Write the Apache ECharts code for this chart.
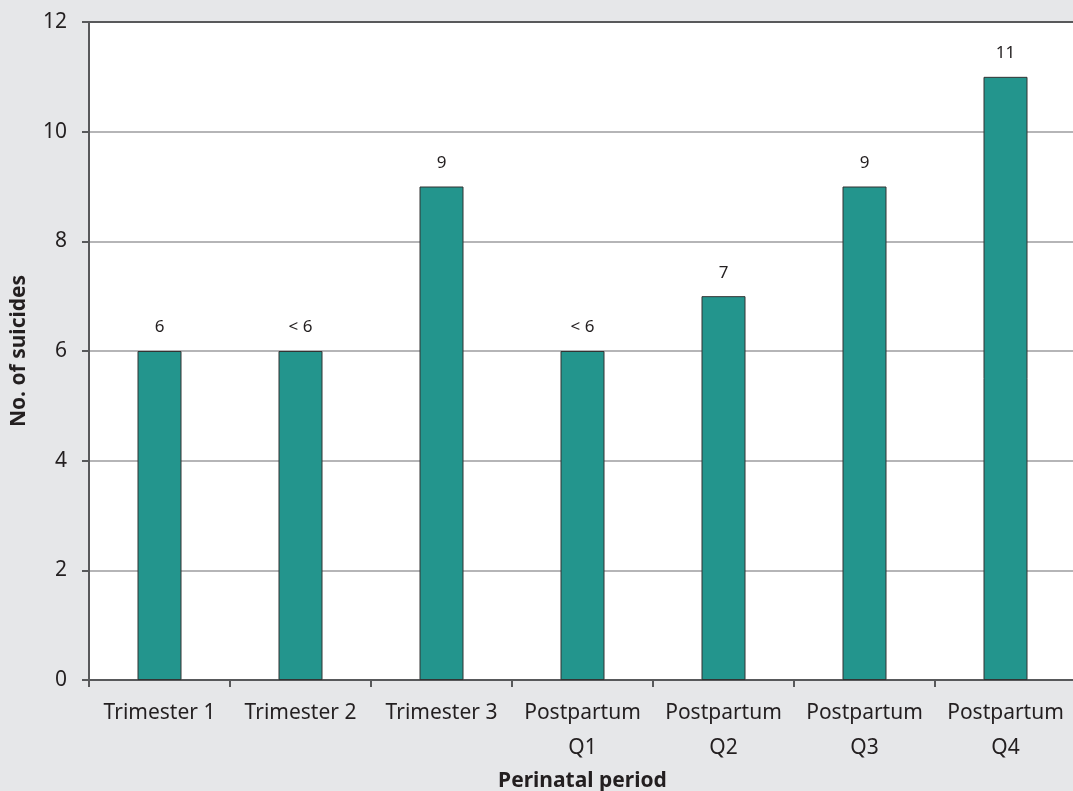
<!DOCTYPE html>
<html><head><meta charset="utf-8">
<script src="https://cdn.jsdelivr.net/npm/echarts@6/dist/echarts.min.js"></script>
<style>html,body{margin:0;padding:0;background:#e6e7e9;}#c{width:1073px;height:791px;}</style>
</head><body><div id="c"></div>
<script>
var categories = ['Trimester 1','Trimester 2','Trimester 3','Postpartum\nQ1','Postpartum\nQ2','Postpartum\nQ3','Postpartum\nQ4'];
var values = [6, 6, 9, 6, 7, 9, 11];
var labels = ['6', '< 6', '9', '< 6', '7', '9', '11'];
var yTicks = [0, 2, 4, 6, 8, 10, 12];
var chart = echarts.init(document.getElementById('c'));
var font = 'Noto Sans';
chart.setOption({
  backgroundColor: '#e6e7e9',
  animation: false,
  grid: {left: 89, right: -3, top: 22, bottom: 111, show: true, backgroundColor: '#fff', borderWidth: 0,
    containLabel: false, outerBoundsMode: 'none'},
  xAxis: {
    type: 'category', data: categories,
    name: 'Perinatal period', nameLocation: 'middle', nameGap: 87,
    nameTextStyle: {fontFamily: font, fontWeight: 'bold', fontSize: 21, color: '#231f20'},
    axisLine: {lineStyle: {color: '#58595b', width: 2}},
    axisTick: {show: true, interval: 0, length: 7, lineStyle: {color: '#58595b', width: 2}},
    axisLabel: {interval: 0, hideOverlap: false, fontFamily: font, fontSize: 21, color: '#231f20', margin: 16, lineHeight: 35}
  },
  yAxis: {
    type: 'value', min: 0, max: 12, interval: 2,
    name: 'No. of suicides', nameLocation: 'middle', nameGap: 59,
    nameTextStyle: {fontFamily: font, fontWeight: 'bold', fontSize: 21, color: '#231f20'},
    axisLine: {show: true, lineStyle: {color: '#58595b', width: 2}},
    axisTick: {show: true, length: 7, lineStyle: {color: '#58595b', width: 2}},
    axisLabel: {fontFamily: font, fontSize: 21, color: '#231f20', margin: 22,
      formatter: function(v){ return yTicks.indexOf(v) >= 0 ? String(v) : ''; }},
    splitLine: {lineStyle: {color: '#b5b5b7', width: 2}}
  },
  series: [{
    type: 'bar', data: values, barWidth: 44,
    itemStyle: {color: '#23958d', borderColor: '#333', borderWidth: 1},
    label: {show: true, position: 'top', distance: 15, fontFamily: font, fontSize: 17, color: '#231f20',
      formatter: function(p){ return labels[p.dataIndex]; }}
  }],
  graphic: [{type: 'line', shape: {x1: 89, y1: 22, x2: 1073, y2: 22}, style: {stroke: '#58595b', lineWidth: 2}, z: 10}]
});
</script></body></html>
